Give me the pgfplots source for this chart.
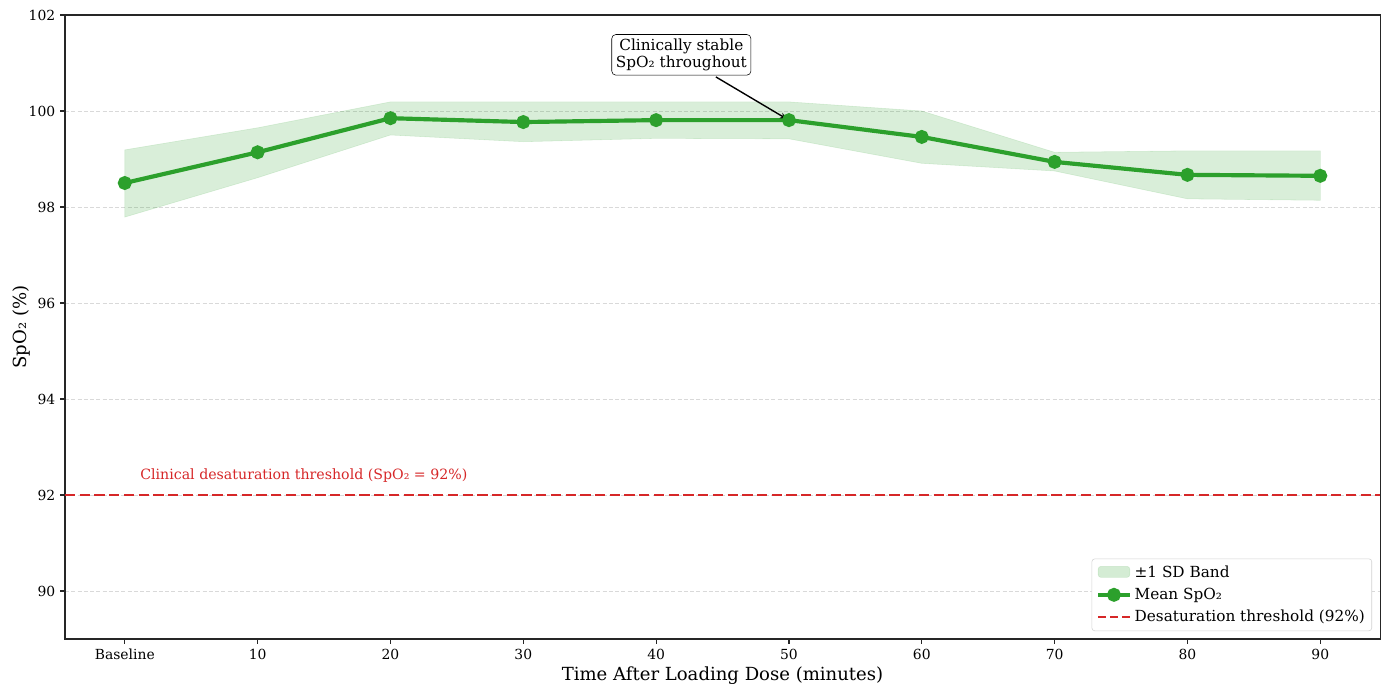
\documentclass[border=0pt]{standalone}
\usepackage{fontspec}
\setmainfont{DejaVu Serif}
\usepackage{pgfplots}
\pgfplotsset{compat=1.18}
\usetikzlibrary{calc}
\definecolor{mgreen}{HTML}{2CA02C}
\definecolor{mred}{HTML}{D62728}
\definecolor{spine}{HTML}{262626}
\begin{document}
\begin{tikzpicture}
\begin{axis}[
  scale only axis,
  width=946.8pt, height=449.3pt,
  xmin=-0.45, xmax=9.45,
  ymin=89, ymax=102,
  xtick={0,1,2,3,4,5,6,7,8,9},
  xticklabels={Baseline,10,20,30,40,50,60,70,80,90},
  ytick={90,92,94,96,98,100,102},
  xtick pos=bottom, ytick pos=left,
  tick align=outside,
  major tick length=3.5pt,
  tick style={spine, line width=0.8pt},
  axis line style={spine, line width=0.8pt},
  /pgf/number format/assume math mode=true,
  ticklabel style={font=\fontsize{10}{12}\selectfont},
  ymajorgrids,
  grid style={gray!30, dash pattern=on 3pt off 1.5pt, line width=0.6pt},
  xlabel={Time After Loading Dose (minutes)},
  ylabel={SpO₂ (\%)},
  label style={font=\fontsize{13}{15}\selectfont},
  xlabel style={yshift=2pt},
  ylabel style={yshift=-8pt},
  legend cell align=left,
  legend style={at={(0.9939,0.0128)}, anchor=south east,
    draw=gray!35, rounded corners=2pt, fill=white,
    font=\fontsize{11}{13}\selectfont, row sep=2.2pt,
    inner xsep=3pt, inner ysep=3pt},
]
\addplot[fill=mgreen, fill opacity=0.18, draw=mgreen, draw opacity=0.15,
  legend image code/.code={\fill[mgreen, fill opacity=0.2] (0cm,-0.12cm) rectangle (0.8cm,0.16cm);}]
  coordinates {
  (0,99.19) (1,99.65) (2,100.19) (3,100.19) (4,100.19) (5,100.19) (6,100.0) (7,99.14) (8,99.17) (9,99.17)
  (9,98.14) (8,98.17) (7,98.75) (6,98.91) (5,99.42) (4,99.43) (3,99.36) (2,99.50) (1,98.61) (0,97.79)
  } --cycle;
\addlegendentry{±1 SD Band}
\addplot[mgreen, line width=3pt, mark=*, mark size=3.5pt, mark options={solid},
  legend image code/.code={\draw[mgreen, line width=3pt, mark=*, mark size=3.5pt, mark repeat=2, mark phase=2] plot coordinates {(0cm,0cm) (0.4cm,0cm) (0.8cm,0cm)};}]
  coordinates {
  (0,98.50) (1,99.14) (2,99.85) (3,99.77) (4,99.81) (5,99.81) (6,99.46) (7,98.94) (8,98.67) (9,98.65)
  };
\addlegendentry{Mean SpO₂}
\addplot[mred, line width=2pt, dash pattern=on 7.4pt off 3.2pt,
  legend image code/.code={\draw[mred, line width=2pt, dash pattern=on 5.5pt off 3.2pt] (0cm,0cm) -- (0.8cm,0cm);}]
  coordinates {(-0.45,92) (9.45,92)};
\addlegendentry{Desaturation threshold (92\%)}
\node[anchor=west, text=mred, font=\fontsize{10.2}{12}\selectfont] at (axis cs:0.08,92.4)
  {Clinical desaturation threshold (SpO₂ = 92\%)};
\node[draw=black, fill=white, rounded corners=3pt, align=center, inner sep=3pt,
  font=\fontsize{11}{12.5}\selectfont] (ann) at (axis cs:4.19,101.17)
  {Clinically stable\\SpO₂ throughout};
\draw[-stealth, line width=1pt] (axis cs:4.45,100.71) -- (axis cs:4.98,99.84);
\end{axis}
\pgfresetboundingbox
\path[use as bounding box] ($(current axis.south west)+(-46.8pt,-32.4pt)$) rectangle ($(current axis.north east)+(5pt,10.8pt)$);
\end{tikzpicture}
\end{document}
